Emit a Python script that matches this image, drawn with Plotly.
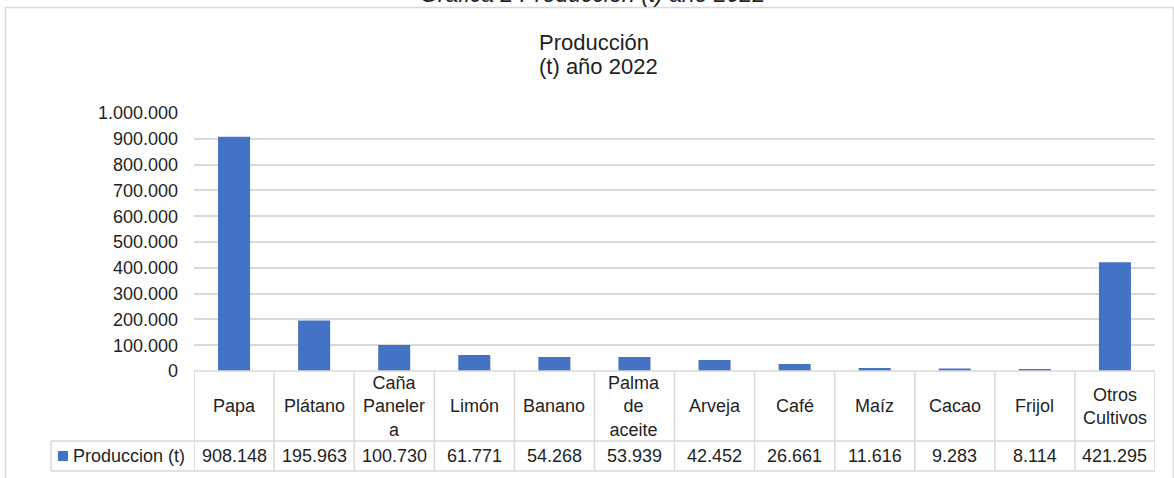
import plotly.graph_objects as go

# ---- data ----
categories = ["Papa", "Plátano", "Caña Panelera", "Limón", "Banano", "Palma de aceite",
              "Arveja", "Café", "Maíz", "Cacao", "Frijol", "Otros Cultivos"]
table_labels = ["Papa", "Plátano", "Caña<br>Paneler<br>a", "Limón", "Banano", "Palma<br>de<br>aceite",
                "Arveja", "Café", "Maíz", "Cacao", "Frijol", "Otros<br>Cultivos"]
produccion = [908148, 195963, 100730, 61771, 54268, 53939, 42452, 26661, 11616, 9283, 8114, 421295]
value_labels = ["908.148", "195.963", "100.730", "61.771", "54.268", "53.939",
                "42.452", "26.661", "11.616", "9.283", "8.114", "421.295"]
series_name = "Produccion (t)"
chart_title_1 = "Producción"
chart_title_2 = "(t) año 2022"
caption = "Gráfica 2 Producción (t) año 2022"

# ---- layout geometry (pixels) ----
W, H = 1174, 478
L, R, T, B = 194, 1155, 113, 371
BLUE = "#4472C4"
GRID = "#d9d9d9"
TXT = "#1f1f1f"
FONT = "Liberation Sans, Arial, sans-serif"


def px_x(X):
    return (X - L) / (R - L)


def px_y(Y):
    return (B - Y) / (B - T)


fig = go.Figure()
fig.add_trace(go.Bar(x=categories, y=produccion, marker=dict(color=BLUE, line=dict(width=0)),
                     width=0.4, name=series_name, showlegend=False, hoverinfo="x+y"))

shapes = []
# chart border
shapes.append(dict(type="rect", xref="paper", yref="paper", x0=px_x(5.5), x1=px_x(1173.5),
                   y0=px_y(7.5), y1=px_y(495), line=dict(color=GRID, width=1.5), layer="below"))
# table horizontal lines
for Y, x0 in [(B, L), (441, 51), (471, 51)]:
    shapes.append(dict(type="line", xref="paper", yref="paper", x0=px_x(x0), x1=1,
                       y0=px_y(Y), y1=px_y(Y), line=dict(color=GRID, width=1.5)))
# table vertical lines
n = len(categories)
for i in range(n + 1):
    shapes.append(dict(type="line", xref="x", yref="paper", x0=i - 0.5, x1=i - 0.5,
                       y0=px_y(B), y1=px_y(471), line=dict(color=GRID, width=1.5)))
shapes.append(dict(type="line", xref="paper", yref="paper", x0=px_x(51), x1=px_x(51),
                   y0=px_y(441), y1=px_y(471), line=dict(color=GRID, width=1.5)))
# legend key
shapes.append(dict(type="rect", xref="paper", yref="paper", x0=px_x(58), x1=px_x(68),
                   y0=px_y(451), y1=px_y(461), fillcolor=BLUE, line=dict(width=0)))

annotations = []
for cat, lab, val in zip(categories, table_labels, value_labels):
    annotations.append(dict(x=cat, xref="x", y=px_y(406), yref="paper", text=lab,
                            showarrow=False, xanchor="center", yanchor="middle",
                            font=dict(size=18, color=TXT, family=FONT)))
    annotations.append(dict(x=cat, xref="x", y=px_y(456), yref="paper", text=val,
                            showarrow=False, xanchor="center", yanchor="middle",
                            font=dict(size=18, color=TXT, family=FONT)))
annotations.append(dict(x=px_x(71), xref="paper", y=px_y(456), yref="paper", text=series_name,
                        showarrow=False, xanchor="left", yanchor="middle",
                        font=dict(size=18, color=TXT, family=FONT)))
annotations.append(dict(x=px_x(594), xref="paper", y=px_y(43), yref="paper", text=chart_title_1,
                        showarrow=False, xanchor="center", yanchor="middle",
                        font=dict(size=22, color=TXT, family=FONT)))
annotations.append(dict(x=px_x(598), xref="paper", y=px_y(67), yref="paper", text=chart_title_2,
                        showarrow=False, xanchor="center", yanchor="middle",
                        font=dict(size=22, color=TXT, family=FONT)))
annotations.append(dict(x=px_x(592), xref="paper", y=px_y(-6), yref="paper", text="<i>" + caption + "</i>",
                        showarrow=False, xanchor="center", yanchor="middle",
                        font=dict(size=23, color=TXT, family=FONT)))

fig.update_layout(
    width=W, height=H,
    margin=dict(l=L, r=W - R, t=T, b=H - B, pad=0),
    paper_bgcolor="white", plot_bgcolor="white",
    separators=",.",
    font=dict(family=FONT, size=18, color=TXT),
    showlegend=False,
    bargap=0.6,
    shapes=shapes,
    annotations=annotations,
    xaxis=dict(range=[-0.5, n - 0.5], showticklabels=False, showgrid=False, zeroline=False,
               showline=False, ticks=""),
    yaxis=dict(range=[0, 1000000], dtick=100000, tickformat=",d", showgrid=True, gridcolor=GRID,
               gridwidth=1.5, zeroline=False, showline=False, ticks="", ticklabelstandoff=15,
               tickfont=dict(size=18, color=TXT, family=FONT)),
)

fig.write_html("out.html", config={"displayModeBar": False},
               post_script="document.body.style.margin='0';document.body.style.overflow='hidden';")
